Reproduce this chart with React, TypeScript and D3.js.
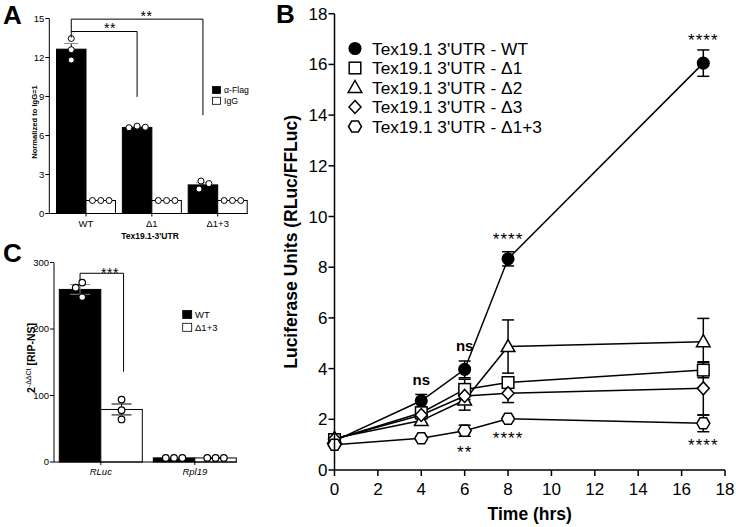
import React from 'react';
import * as d3 from 'd3';

const FONT = '"Liberation Sans", Arial, Helvetica, sans-serif';

// ---------- Panel A data ----------
const aGroups = ['WT', 'Δ1', 'Δ1+3'];
const aSeries = ['α-Flag', 'IgG'];
const aFlagMean = [12.64, 6.62, 2.2];
const aFlagErr = [0.44, 0.06, 0.17];
const aFlagDots = [[13.46, 12.6, 11.8], [6.72, 6.6, 6.64], [2.5, 1.88, 2.3]];
const aIgGMean = [1, 1, 1];
const aIgGDots = [[1, 1, 1], [1, 1, 1], [1, 1, 1]];
const aYTicks = [0, 3, 6, 9, 12, 15];

// ---------- Panel C data ----------
const cGroups = ['RLuc', 'Rpl19'];
const cSeries = ['WT', 'Δ1+3'];
const cWTMean = [259.5, 6.2];
const cWTErr = [7.3, 0.4];
const cMutMean = [79, 6.1];
const cMutErr = [8.2, 0.4];
const cWTDots = [[269.8, 262, 248], [6.2, 6.0, 6.1]];
const cMutDots = [[93.8, 78, 64], [6.0, 6.2, 6.0]];
const cYTicks = [0, 100, 200, 300];

// ---------- Panel B data ----------
const bTimes = [0, 4, 6, 8, 17];
const bNames = ["Tex19.1 3'UTR - WT", "Tex19.1 3'UTR - Δ1", "Tex19.1 3'UTR - Δ2", "Tex19.1 3'UTR - Δ3", "Tex19.1 3'UTR - Δ1+3"];
const bShapes = ['circle', 'square', 'triangle', 'diamond', 'hexagon'];
const bWT = [1.15, 2.73, 3.97, 8.33, 16.05];
const bWTErr = [0.1, 0.25, 0.33, 0.28, 0.52];
const bD1 = [1.2, 2.26, 3.18, 3.45, 3.94];
const bD1Err = [0.08, 0.2, 0.4, 0.2, 0.3];
const bD2 = [1.25, 1.95, 2.76, 4.87, 5.06];
const bD2Err = [0.08, 0.18, 0.4, 1.05, 0.92];
const bD3 = [1.22, 2.17, 2.92, 3.03, 3.22];
const bD3Err = [0.08, 0.15, 0.3, 0.37, 1.05];
const bD13 = [1.0, 1.25, 1.55, 2.02, 1.84];
const bD13Err = [0.05, 0.08, 0.22, 0.08, 0.33];
const bXTicks = [0, 2, 4, 6, 8, 10, 12, 14, 16, 18];
const bYTicks = [0, 2, 4, 6, 8, 10, 12, 14, 16, 18];
const bAnnotText = ['ns', 'ns', '****', '****', '**', '****', '****'];
const bAnnotTime = [4, 6, 8, 8, 6, 17, 17];
const bAnnotValue = [3.37, 4.69, 8.88, 1.03, 0.47, 16.74, 0.73];

function swarm(ys: number[], d: number): number[] {
  const placed: { x: number; y: number }[] = [];
  for (const y of ys) {
    const cands = [0];
    for (const p of placed) {
      const dy = Math.abs(p.y - y);
      if (dy < d) {
        const dx = Math.sqrt(d * d - dy * dy);
        cands.push(p.x + dx, p.x - dx);
      }
    }
    cands.sort((a, b) => Math.abs(a) - Math.abs(b) || a - b);
    const ok = cands.find((c) => placed.every((p) => Math.hypot(p.x - c, p.y - y) >= d - 1e-6));
    placed.push({ x: ok ?? 0, y });
  }
  const m = d3.mean(placed, (p) => p.x) ?? 0;
  return placed.map((p) => p.x - m);
}

function PanelA() {
  const y = d3.scaleLinear().domain([0, 15]).range([213.5, 18.5]);
  const x = d3.scaleBand<string>().domain(aGroups).range([56.5, 247.2]).paddingInner(0.104);
  const xs = d3.scaleBand<string>().domain(aSeries).range([0, x.bandwidth()]);
  const bw = xs.bandwidth();
  const axX = 49.3;
  const r = 3;
  const cFlag = (i: number) => (x(aGroups[i]) as number) + (xs(aSeries[0]) as number) + bw / 2;
  const cIgG = (i: number) => (x(aGroups[i]) as number) + (xs(aSeries[1]) as number) + bw / 2;
  return (
    <g>
      <text x={3} y={23.5} fontSize={26} fontWeight="bold">A</text>
      {aGroups.map((g, i) => (
        <g key={g}>
          <rect x={cFlag(i) - bw / 2} y={y(aFlagMean[i])} width={bw} height={y(0) - y(aFlagMean[i])} fill="#000" stroke="#000" strokeWidth={1} />
          <rect x={cIgG(i) - bw / 2} y={y(aIgGMean[i])} width={bw} height={y(0) - y(aIgGMean[i])} fill="#fff" stroke="#000" strokeWidth={1} />
          <line x1={cFlag(i)} x2={cFlag(i)} y1={y(aFlagMean[i] - aFlagErr[i])} y2={y(aFlagMean[i] + aFlagErr[i])} stroke="#000" />
          <line x1={cFlag(i) - 7} x2={cFlag(i) + 7} y1={y(aFlagMean[i] + aFlagErr[i])} y2={y(aFlagMean[i] + aFlagErr[i])} stroke="#888" />
          {(() => {
            const offs = swarm(aFlagDots[i].map((v) => y(v)), 8.3);
            return aFlagDots[i].map((v, k) => (
              <circle key={'f' + k} cx={cFlag(i) + offs[k]} cy={y(v)} r={r} fill="#fff" stroke="#000" strokeWidth={1} />
            ));
          })()}
          {(() => {
            const offs = swarm(aIgGDots[i].map((v) => y(v)), 8.3);
            return aIgGDots[i].map((v, k) => (
              <circle key={'g' + k} cx={cIgG(i) + offs[k]} cy={y(v)} r={r} fill="#fff" stroke="#000" strokeWidth={1} />
            ));
          })()}
        </g>
      ))}
      {/* axes */}
      <line x1={axX} x2={axX} y1={y(15)} y2={y(0)} stroke="#000" strokeWidth={1} />
      <line x1={axX} x2={247.5} y1={y(0)} y2={y(0)} stroke="#000" strokeWidth={1} />
      {aYTicks.map((t) => (
        <g key={t}>
          <line x1={axX - 4} x2={axX} y1={y(t)} y2={y(t)} stroke="#000" />
          <text x={axX - 5} y={y(t) + 3.3} fontSize={9.5} textAnchor="end">{t}</text>
        </g>
      ))}
      {aGroups.map((g) => {
        const cx = (x(g) as number) + x.bandwidth() / 2;
        return (
          <g key={g}>
            <line x1={cx} x2={cx} y1={y(0)} y2={y(0) + 3} stroke="#000" />
            <text x={cx} y={226.5} fontSize={9.5} textAnchor="middle">{g}</text>
          </g>
        );
      })}
      <text x={150} y={238.5} fontSize={8.5} fontWeight="bold" textAnchor="middle">Tex19.1-3'UTR</text>
      <text transform="translate(37,122) rotate(-90)" fontSize={7.6} fontWeight="bold" textAnchor="middle">Normalized to IgG=1</text>
      {/* brackets */}
      <path d={`M${cFlag(0)},${y(13.5) - 0.5}V${y(14.95)}H${cFlag(2)}V${y(7.56)}`} fill="none" stroke="#000" />
      <path d={`M${cFlag(0)},${y(14.0)}H${cFlag(1)}V${y(8.97)}`} fill="none" stroke="#000" />
      <text x={110} y={33} fontSize={14} textAnchor="middle" letterSpacing={0.5}>**</text>
      <text x={146.5} y={21} fontSize={14} textAnchor="middle" letterSpacing={0.5}>**</text>
      {/* legend */}
      {aSeries.map((s, k) => (
        <g key={s}>
          <rect x={212.5} y={86.5 + k * 10.8} width={8} height={7} fill={k === 0 ? '#000' : '#fff'} stroke="#000" strokeWidth={0.8} />
          <text x={224} y={93.3 + k * 10.8} fontSize={8.7}>{s}</text>
        </g>
      ))}
    </g>
  );
}

function PanelC() {
  const y = d3.scaleLinear().domain([0, 300]).range([462, 262.5]);
  const x = d3.scaleBand<string>().domain(cGroups).range([59.3, 236.3]).paddingInner(0.117);
  const xs = d3.scaleBand<string>().domain(cSeries).range([0, x.bandwidth()]);
  const bw = xs.bandwidth();
  const axX = 54;
  const r = 3.3;
  const means = [cWTMean, cMutMean];
  const errs = [cWTErr, cMutErr];
  const dots = [cWTDots, cMutDots];
  const cen = (i: number, s: number) => (x(cGroups[i]) as number) + (xs(cSeries[s]) as number) + bw / 2;
  return (
    <g>
      <text x={3} y={262} fontSize={26} fontWeight="bold">C</text>
      {cGroups.map((g, i) => (
        <g key={g}>
          {[0, 1].map((s) => (
            <g key={s}>
              <rect x={cen(i, s) - bw / 2} y={y(means[s][i])} width={bw} height={y(0) - y(means[s][i])} fill={s === 0 ? '#000' : '#fff'} stroke="#000" strokeWidth={1} />
              <line x1={cen(i, s)} x2={cen(i, s)} y1={y(means[s][i] - errs[s][i])} y2={y(means[s][i] + errs[s][i])} stroke={s === 0 ? '#888' : '#000'} />
              {[1, -1].map((sg) => (
                <line key={sg} x1={cen(i, s) - 10} x2={cen(i, s) + 10} y1={y(means[s][i] + sg * errs[s][i])} y2={y(means[s][i] + sg * errs[s][i])} stroke={s === 0 ? '#888' : '#000'} />
              ))}
              {(() => {
                const offs = swarm(dots[s][i].map((v) => y(v)), 8.3);
                return dots[s][i].map((v, k) => (
                  <circle key={k} cx={cen(i, s) + offs[k]} cy={y(v)} r={r} fill="#fff" stroke="#000" strokeWidth={1.2} />
                ));
              })()}
            </g>
          ))}
        </g>
      ))}
      <line x1={axX} x2={axX} y1={y(300)} y2={y(0)} stroke="#000" />
      <line x1={axX} x2={237} y1={y(0)} y2={y(0)} stroke="#000" />
      {cYTicks.map((t) => (
        <g key={t}>
          <line x1={axX - 4} x2={axX} y1={y(t)} y2={y(t)} stroke="#000" />
          <text x={axX - 5} y={y(t) + 3.3} fontSize={9.5} textAnchor="end">{t}</text>
        </g>
      ))}
      {cGroups.map((g) => {
        const cx = (x(g) as number) + x.bandwidth() / 2;
        return (
          <g key={g}>
            <line x1={cx} x2={cx} y1={y(0)} y2={y(0) + 3} stroke="#000" />
            <text x={cx} y={475} fontSize={9.5} fontStyle="italic" textAnchor="middle">{g}</text>
          </g>
        );
      })}
      <text transform="translate(35,358) rotate(-90)" fontSize={10.5} fontWeight="bold" textAnchor="middle">
        2<tspan fontSize={7} fontWeight="normal" dy={-4.5}>-ΔΔCt</tspan><tspan dy={4.5}> [RIP-NS]</tspan>
      </text>
      <path d={`M${cen(0, 0)},${y(273.7)}V${y(283.8)}H${cen(0, 1) + 2}V${y(135.8)}`} fill="none" stroke="#000" />
      <text x={110} y={277.5} fontSize={14} textAnchor="middle" letterSpacing={0.5}>***</text>
      {cSeries.map((s, k) => (
        <g key={s}>
          <rect x={182.7} y={310.5 + k * 12.8} width={9} height={8} fill={k === 0 ? '#000' : '#fff'} stroke="#000" strokeWidth={0.8} />
          <text x={195} y={318 + k * 12.8} fontSize={9.5}>{s}</text>
        </g>
      ))}
    </g>
  );
}

function Marker({ shape, x, y }: { shape: string; x: number; y: number }) {
  const common = { stroke: '#000', strokeWidth: 1.5 };
  switch (shape) {
    case 'circle':
      return <circle cx={x} cy={y} r={5.8} fill="#000" {...common} />;
    case 'square':
      return <rect x={x - 5.8} y={y - 5.8} width={11.6} height={11.6} fill="#fff" {...common} />;
    case 'triangle':
      return <path d={`M${x},${y - 7}L${x + 6.8},${y + 5}L${x - 6.8},${y + 5}Z`} fill="#fff" {...common} />;
    case 'diamond':
      return <path d={`M${x},${y - 6.5}L${x + 6},${y}L${x},${y + 6.5}L${x - 6},${y}Z`} fill="#fff" {...common} />;
    default:
      return <path d={`M${x - 6.5},${y}L${x - 3.3},${y - 5.5}L${x + 3.3},${y - 5.5}L${x + 6.5},${y}L${x + 3.3},${y + 5.5}L${x - 3.3},${y + 5.5}Z`} fill="#fff" {...common} />;
  }
}

function PanelB() {
  const x = d3.scaleLinear().domain([0, 18]).range([334.5, 725]);
  const y = d3.scaleLinear().domain([0, 18]).range([470, 13.7]);
  const series = [bWT, bD1, bD2, bD3, bD13];
  const errs = [bWTErr, bD1Err, bD2Err, bD3Err, bD13Err];
  const line = d3.line<number>().x((_, i) => x(bTimes[i])).y((v) => y(v));
  return (
    <g>
      <text x={276} y={23} fontSize={26} fontWeight="bold">B</text>
      {series.map((s, k) => (
        <path key={k} d={line(s) as string} fill="none" stroke="#000" strokeWidth={1.5} />
      ))}
      {series.map((s, k) => (
        <g key={k}>
          {s.map((v, i) => (
            <g key={i}>
              <line x1={x(bTimes[i])} x2={x(bTimes[i])} y1={y(v - errs[k][i])} y2={y(v + errs[k][i])} stroke="#000" strokeWidth={1.5} />
              {[1, -1].map((sg) => (
                <line key={sg} x1={x(bTimes[i]) - 6} x2={x(bTimes[i]) + 6} y1={y(v + sg * errs[k][i])} y2={y(v + sg * errs[k][i])} stroke="#000" strokeWidth={1.5} />
              ))}
            </g>
          ))}
        </g>
      ))}
      {series.map((s, k) => (
        <g key={k}>
          {s.map((v, i) => (
            <Marker key={i} shape={bShapes[k]} x={x(bTimes[i])} y={y(v)} />
          ))}
        </g>
      ))}
      {/* axes */}
      <line x1={x(0)} x2={x(0)} y1={y(18)} y2={y(0)} stroke="#000" strokeWidth={1.5} />
      <line x1={x(0)} x2={x(18)} y1={y(0)} y2={y(0)} stroke="#000" strokeWidth={1.5} />
      {bYTicks.map((t) => (
        <g key={t}>
          <line x1={x(0) - 6} x2={x(0)} y1={y(t)} y2={y(t)} stroke="#000" strokeWidth={1.5} />
          <text x={x(0) - 7} y={y(t) + 6} fontSize={17} textAnchor="end">{t}</text>
        </g>
      ))}
      {bXTicks.map((t) => (
        <g key={t}>
          <line x1={x(t)} x2={x(t)} y1={y(0)} y2={y(0) + 6} stroke="#000" strokeWidth={1.5} />
          <text x={x(t)} y={495} fontSize={17} textAnchor="middle">{t}</text>
        </g>
      ))}
      <text x={(x(0) + x(18)) / 2} y={520} fontSize={17.5} fontWeight="bold" textAnchor="middle">Time (hrs)</text>
      <text transform={`translate(297,${(y(0) + y(18)) / 2}) rotate(-90)`} fontSize={17.5} fontWeight="bold" textAnchor="middle">Luciferase Units (RLuc/FFLuc)</text>
      {bAnnotText.map((t, i) => (
        <text key={i} x={x(bAnnotTime[i])} y={y(bAnnotValue[i])} fontSize={t === 'ns' ? 15 : 17} fontWeight={t === 'ns' ? 'bold' : 'normal'} textAnchor="middle" letterSpacing={t === 'ns' ? 0 : 1}>{t}</text>
      ))}
      {/* legend */}
      {bNames.map((n, k) => (
        <g key={n}>
          <Marker shape={bShapes[k]} x={355} y={48.5 + k * 19.5} />
          <text x={372} y={54.6 + k * 19.5} fontSize={17.3}>{n}</text>
        </g>
      ))}
    </g>
  );
}

export default function App() {
  return (
    <svg width={736} height={527} style={{ position: 'absolute', left: 0, top: 0, background: '#fff' }} fontFamily={FONT}>
      <rect width={736} height={527} fill="#fff" />
      <PanelA />
      <PanelC />
      <PanelB />
    </svg>
  );
}
